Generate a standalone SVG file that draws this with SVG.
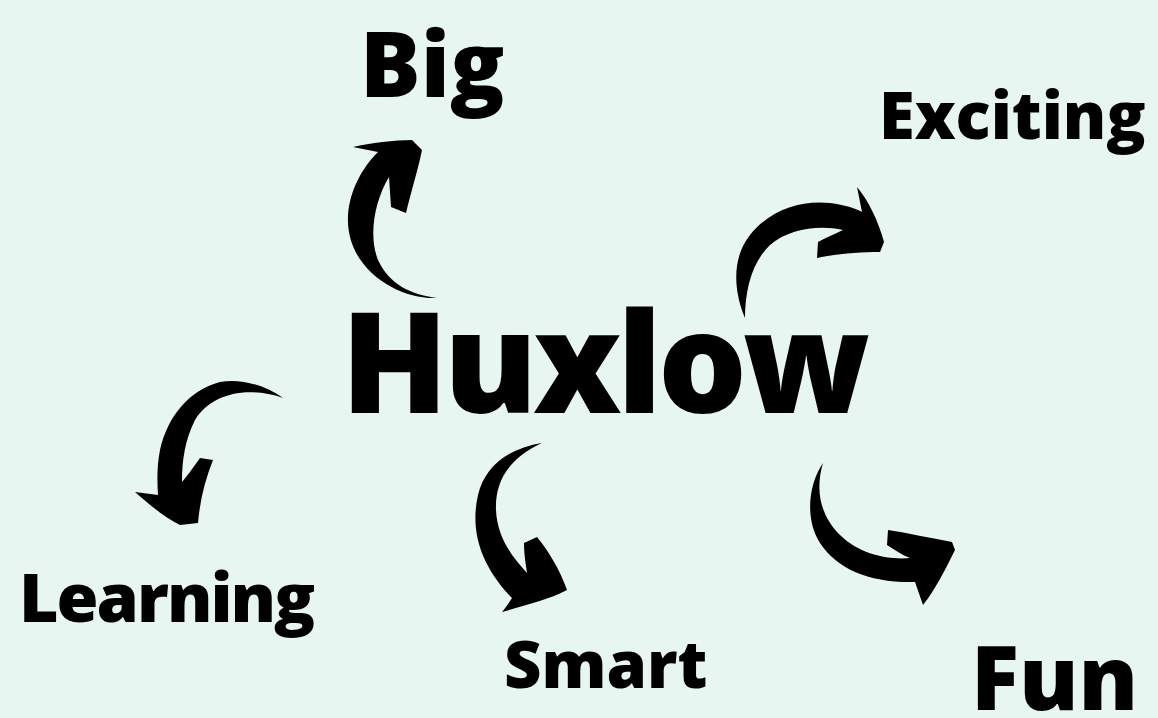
<svg xmlns="http://www.w3.org/2000/svg" width="1158" height="718" viewBox="0 0 1158 718">
<style>
.t{font-family:"Open Sans","Liberation Sans",sans-serif;font-weight:800;fill:#000}
.a{fill:#000}
</style>
<rect width="1158" height="718" fill="#E7F6F1"/>
<g id="huxlow"><text class="t" x="341" y="413" font-size="140" letter-spacing="-4.4">Huxlow</text></g>
<g id="big"><text class="t" x="360" y="97" font-size="90">Big</text></g>
<g id="exciting"><text class="t" x="879" y="139" font-size="65">Exciting</text></g>
<g id="learning"><text class="t" x="19" y="622" font-size="68" letter-spacing="-2">Learning</text></g>
<g id="smart"><text class="t" x="504" y="688" font-size="65">Smart</text></g>
<g id="fun"><text class="t" x="971" y="710" font-size="89">Fun</text></g>
<g id="connectors">
<path class="a" d="M437,298 C400,300 345,270 348,215 C350,190 362,168 378,152 L353,147 C370,143 395,140 412,140 L422,150 C418,170 410,195 406,213 L391,207 L389,177 C375,200 368,235 378,260 C390,285 410,294 437,298 Z"/>
<path class="a" d="M745,318 C735,295 730,260 750,235 C770,210 800,200 830,203 C845,205 855,208 862,212 L857,187 C868,200 878,220 884,242 L880,252 C860,252 835,254 817,258 L818,242 C825,238 835,234 843,230 C820,225 790,228 770,245 C752,262 745,290 745,318 Z"/>
<path class="a" d="M283,398 C265,385 240,378 220,382 C190,390 168,415 160,450 C157,465 157,480 158,495 L135,492 C150,505 165,518 180,525 L198,523 C200,500 205,480 213,460 L200,458 C195,465 188,475 182,482 C182,460 185,440 195,420 C210,395 245,385 283,398 Z"/>
<path class="a" d="M542,443 C510,448 485,465 478,495 C470,530 480,565 512,598 C509,603 505,608 502,612 C525,605 548,600 567,590 C560,570 548,550 537,537 L524,543 C524,555 526,565 527,573 C510,555 497,535 496,510 C495,485 505,460 542,443 Z"/>
<path class="a" d="M823,463 C808,485 805,520 820,543 C838,570 870,583 915,582 L923,605 C935,590 945,570 955,550 L952,542 C930,538 908,533 888,530 L887,545 C895,550 902,555 910,558 C890,560 860,555 840,535 C820,515 815,490 823,463 Z"/>
</g>
</svg>
